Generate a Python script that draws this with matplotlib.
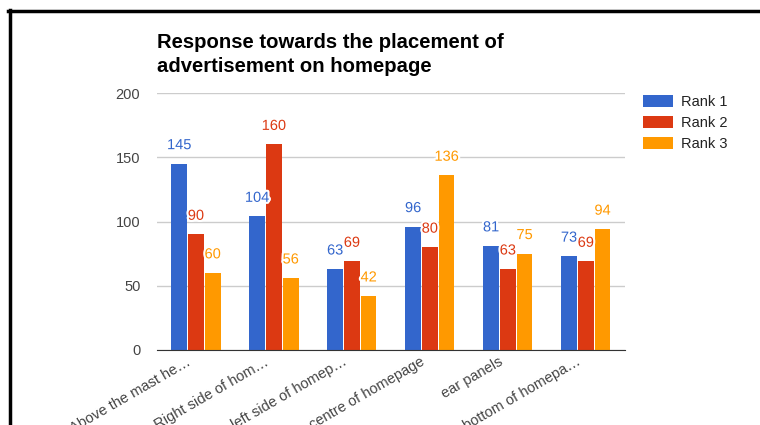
import numpy as np
import matplotlib.pyplot as plt
from matplotlib.lines import Line2D
import matplotlib.patheffects as pe
import matplotlib.transforms as mtrans

plt.rcParams['font.family'] = ['Liberation Sans', 'DejaVu Sans']

categories = ['Above the mast he…', 'Right side of hom…', 'left side of homep…',
              'centre of homepage', 'ear panels', 'bottom of homepa…']
rank1 = [145, 104, 63, 96, 81, 73]
rank2 = [90, 160, 69, 80, 63, 69]
rank3 = [60, 56, 42, 136, 75, 94]
series = [('Rank 1', rank1, '#3366cc'), ('Rank 2', rank2, '#dc3912'), ('Rank 3', rank3, '#ff9900')]

fig = plt.figure(figsize=(7.6, 4.25), dpi=100)
ax = fig.add_axes([0.2066, 0.1765, 0.6155, 0.6045])

x = np.arange(len(categories))
width = 0.2
gap = 0.215
for i, (name, vals, col) in enumerate(series):
    pos = x + (i - 1) * gap
    ax.bar(pos, vals, width, color=col, label=name, zorder=3)
    for px, v in zip(pos, vals):
        ax.text(px, v + 9, str(v), ha='center', va='bottom', fontsize=10.5, color=col,
                zorder=5, path_effects=[pe.withStroke(linewidth=3, foreground='white')])

ax.set_xlim(-0.5, len(categories) - 0.5)
ax.set_ylim(0, 200)
ax.set_yticks([0, 50, 100, 150, 200])
ax.grid(axis='y', color='#cccccc', linewidth=1, zorder=0)
for s in ['top', 'right', 'left']:
    ax.spines[s].set_visible(False)
ax.spines['bottom'].set_color('#333333')
ax.spines['bottom'].set_zorder(4)
ax.tick_params(axis='both', length=0, labelcolor='#444444', labelsize=10.5)
ax.tick_params(axis='y', pad=12)
ax.set_xticks(x)
ax.set_xticklabels(categories, rotation=30, ha='right', rotation_mode='anchor')
shift = mtrans.ScaledTranslation(-10 / 100, 0, fig.dpi_scale_trans)
for lbl in ax.get_xticklabels():
    lbl.set_transform(lbl.get_transform() + shift)

fig.text(0.2066, 1 - 33 / 425, 'Response towards the placement of\nadvertisement on homepage',
         fontsize=14.6, fontweight='bold', va='top', ha='left', linespacing=1.3)

ax.legend(loc='upper left', bbox_to_anchor=(1.01, 1.045), frameon=False, fontsize=10.5,
          handlelength=2.1, handleheight=0.9, labelcolor='#222222', labelspacing=0.5,
          handletextpad=0.55)

# black frame on top and left
fig.add_artist(Line2D([9.5 / 760, 9.5 / 760], [0, 1 - 10 / 425], color='black', linewidth=2.5,
                      transform=fig.transFigure))
fig.add_artist(Line2D([8 / 760, 1], [1 - 11 / 425, 1 - 11 / 425], color='black', linewidth=2.5,
                      transform=fig.transFigure))

fig.savefig('out.png', dpi=100)
